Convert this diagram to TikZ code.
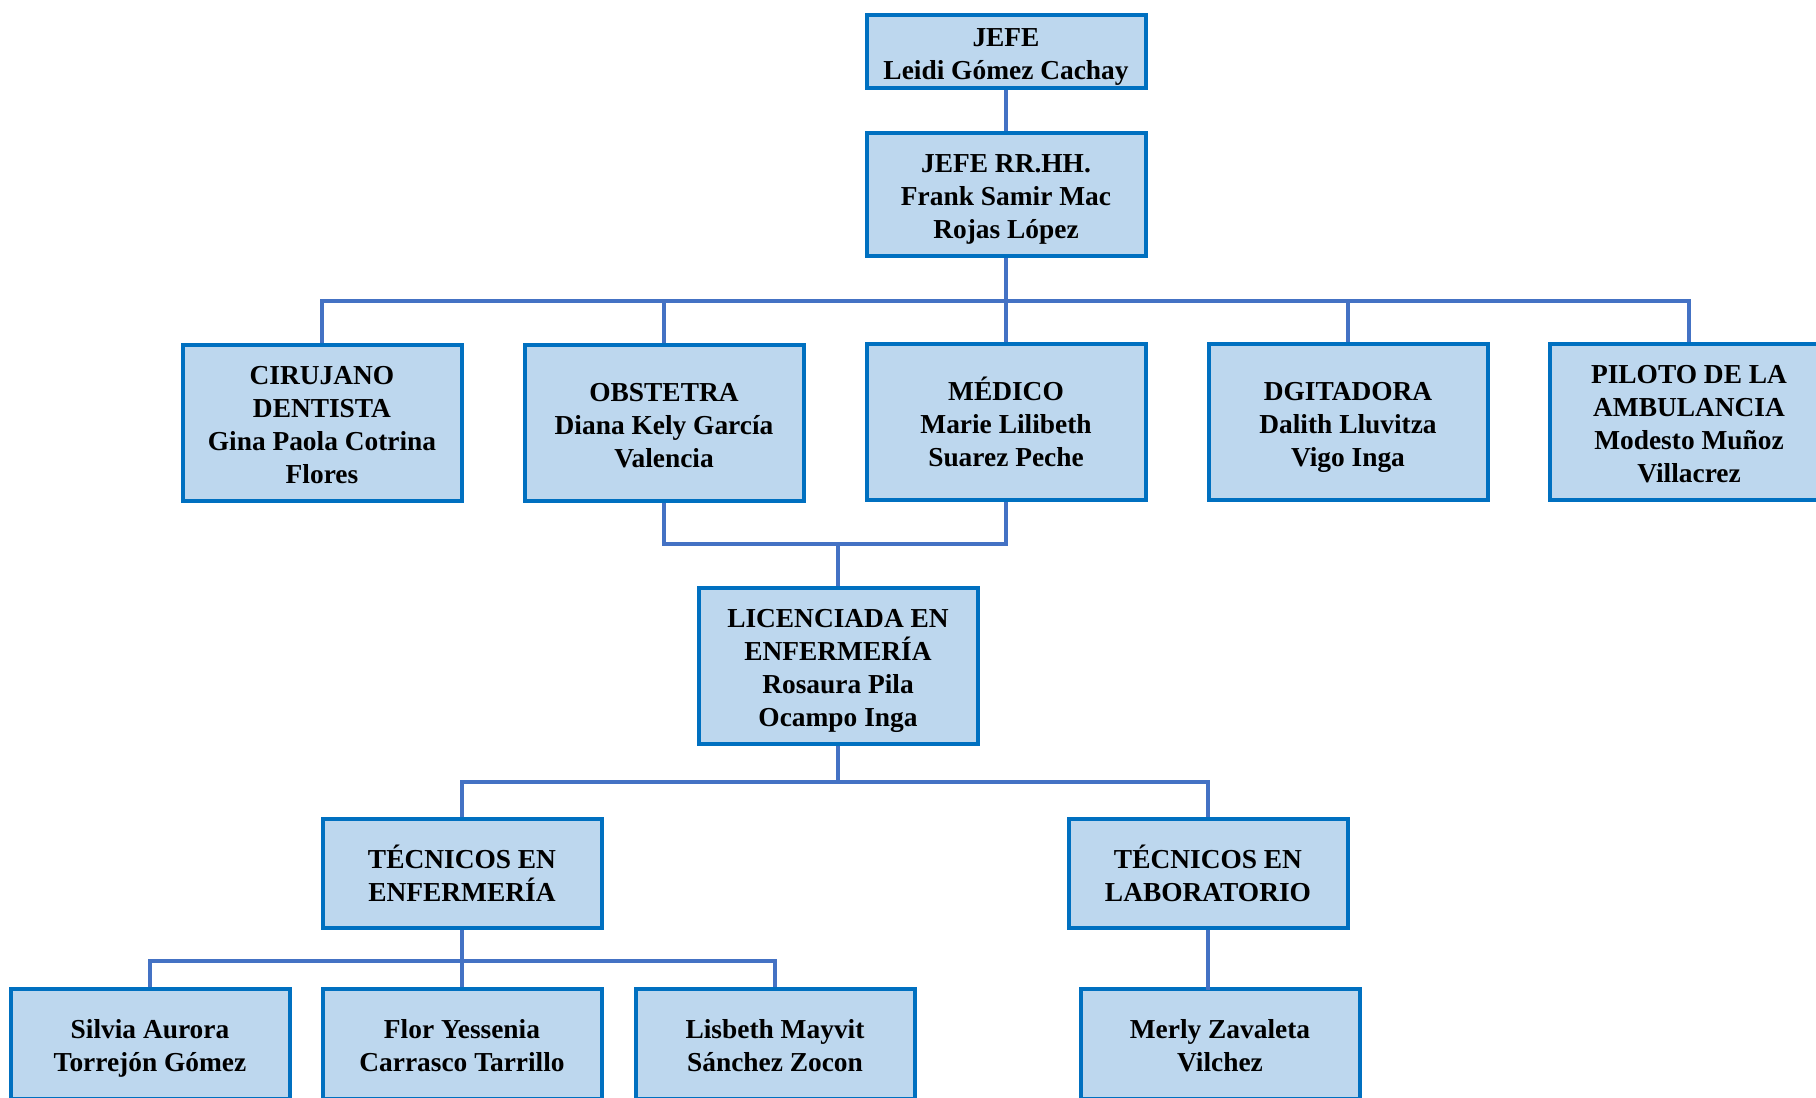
\documentclass[tikz,border=0pt]{standalone}
\usepackage{fontspec}
\setmainfont{Liberation Serif}
\definecolor{boxblue}{HTML}{0070C0}
\definecolor{boxfill}{HTML}{BDD7EE}
\definecolor{lineblue}{HTML}{4472C4}
\newcommand\tstrut{\rule{0pt}{29.5pt}}
\newcommand\bstrut{\rule[-7pt]{0pt}{7pt}}
\begin{document}
\begin{tikzpicture}[x=1pt,y=-1pt,
  orgbox/.style={draw=boxblue, line width=4pt, fill=boxfill, minimum width=279pt,
    align=center, inner sep=0pt, font=\bfseries\fontsize{27.4}{33}\selectfont},
  conn/.style={draw=lineblue, line width=4pt}]
\useasboundingbox (0,0) rectangle (1816,1098);
\clip (0,0) rectangle (1816,1098);
% nodes
\node[orgbox, minimum height=73pt] (jefe) at (1006,51.5) {\tstrut JEFE\\Leidi Gómez Cachay\bstrut};
\node[orgbox, minimum height=123pt] (rrhh) at (1006,194.5) {\tstrut JEFE RR.HH.\\Frank Samir Mac\\Rojas López\bstrut};
\node[orgbox, minimum height=156pt] (cir) at (322,423) {\tstrut CIRUJANO\\DENTISTA\\Gina Paola Cotrina\\Flores\bstrut};
\node[orgbox, minimum height=156pt] (obs) at (664,423) {\tstrut OBSTETRA\\Diana Kely García\\Valencia\bstrut};
\node[orgbox, minimum height=156pt] (med) at (1006,422) {\tstrut MÉDICO\\Marie Lilibeth\\Suarez Peche\bstrut};
\node[orgbox, minimum height=156pt] (dgi) at (1348,422) {\tstrut DGITADORA\\Dalith Lluvitza\\Vigo Inga\bstrut};
\node[orgbox, minimum height=156pt] (pil) at (1689,422) {\tstrut PILOTO DE LA\\AMBULANCIA\\Modesto Muñoz\\Villacrez\bstrut};
\node[orgbox, minimum height=156pt] (lic) at (838,666) {\tstrut LICENCIADA EN\\ENFERMERÍA\\Rosaura Pila\\Ocampo Inga\bstrut};
\node[orgbox, minimum height=109pt] (tenf) at (462,873.5) {\tstrut TÉCNICOS EN\\ENFERMERÍA\bstrut};
\node[orgbox, minimum height=109pt] (tlab) at (1208,873.5) {\tstrut TÉCNICOS EN\\LABORATORIO\bstrut};
\node[orgbox, minimum height=110pt] (sil) at (150,1044) {\tstrut Silvia Aurora\\Torrejón Gómez\bstrut};
\node[orgbox, minimum height=110pt] (flo) at (462,1044) {\tstrut Flor Yessenia\\Carrasco Tarrillo\bstrut};
\node[orgbox, minimum height=110pt] (lis) at (775,1044) {\tstrut Lisbeth Mayvit\\Sánchez Zocon\bstrut};
\node[orgbox, minimum height=110pt] (mer) at (1220,1044) {\tstrut Merly Zavaleta\\Vilchez\bstrut};
% bus points
\coordinate (b1) at (1006,301);
\coordinate (b2) at (838,544);
\coordinate (b3) at (838,782);
\coordinate (b4) at (462,961);
\coordinate (m1) at (1208,990);
% connectors
\draw[conn] (jefe.south) -- (rrhh.north);
\draw[conn] (rrhh.south) -- (b1);
\draw[conn] (cir.north) |- (b1);
\draw[conn] (obs.north) |- (b1);
\draw[conn] (b1) -- (med.north);
\draw[conn] (dgi.north) |- (b1);
\draw[conn] (pil.north) |- (b1);
\draw[conn] (obs.south) |- (b2) -| (med.south);
\draw[conn] (b2) -- (lic.north);
\draw[conn] (lic.south) -- (b3);
\draw[conn] (tenf.north) |- (b3) -| (tlab.north);
\draw[conn] (tenf.south) -- (b4);
\draw[conn] (sil.north) |- (b4) -| (lis.north);
\draw[conn] (b4) -- (flo.north);
\draw[conn] (tlab.south) -- (m1);
\end{tikzpicture}
\end{document}
